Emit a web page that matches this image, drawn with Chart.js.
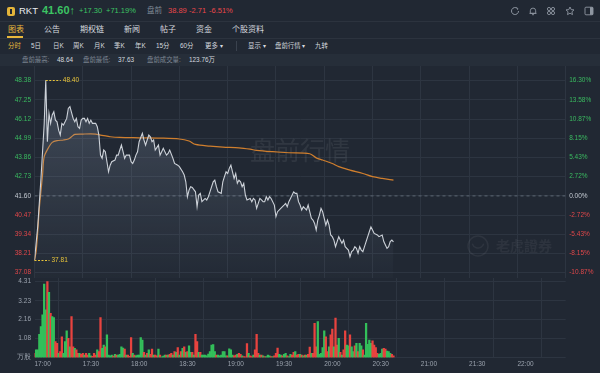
<!DOCTYPE html>
<html>
<head>
<meta charset="utf-8">
<script src="https://cdn.jsdelivr.net/npm/chart.js@4.4.1/dist/chart.umd.min.js"></script>
<style>
  html, body { margin: 0; padding: 0; }
  body { width: 600px; height: 373px; overflow: hidden; background: #212833; position: relative;
         font-family: "Liberation Sans", "Noto Sans CJK SC", sans-serif; }
  .t { position: absolute; white-space: nowrap; line-height: 1; }
  .g { color: #3cc463; } .r { color: #e8474a; } .y { color: #e9b83c; }
  .w { color: #d5d9df; } .m { color: #7f8895; }
  .hl { position: absolute; left: 0; width: 600px; height: 1px; background: #2c333e; }
  #band { position: absolute; left: 0; top: 54px; width: 600px; height: 12px; background: #262e39; }
  #pc { position: absolute; left: 0; top: 66px; }
  #vc { position: absolute; left: 0; top: 278px; }
  svg.ic { position: absolute; top: 6px; }
</style>
</head>
<body>
<!-- row 1: quote -->
<div style="position:absolute;left:7px;top:7px;width:8px;height:9px;background:#e3b43a;border-radius:2px"></div>
<div style="position:absolute;left:10px;top:9px;width:2px;height:5px;background:#212833"></div>
<span class="t w" style="left:19px;top:6px;font-size:9.5px;color:#e8ebef">RKT</span>
<span class="t g" style="left:42px;top:5px;font-size:11px;font-weight:bold">41.60↑</span>
<span class="t g" style="left:79px;top:7px;font-size:7.5px">+17.30</span>
<span class="t g" style="left:106px;top:7px;font-size:7.5px">+71.19%</span>
<span class="t m" style="left:147px;top:7px;font-size:7.5px">盘前</span>
<span class="t r" style="left:168px;top:7px;font-size:7.5px">38.89</span>
<span class="t r" style="left:189px;top:7px;font-size:7.5px">-2.71</span>
<span class="t r" style="left:209px;top:7px;font-size:7.5px">-6.51%</span>
<svg class="ic" style="left:510px" width="10" height="10" viewBox="0 0 10 10"><path d="M8.5 5a3.5 3.5 0 1 1-1.2-2.6" fill="none" stroke="#8e96a1" stroke-width="1"/><path d="M6.5 1.6l1.3 0.9-0.3 1.3" fill="none" stroke="#8e96a1" stroke-width="0.9"/></svg>
<svg class="ic" style="left:528px" width="10" height="10" viewBox="0 0 10 10"><path d="M2.3 7.3V4.8a2.7 2.7 0 0 1 5.4 0v2.5zM1.5 7.4h7M4 8.7h2" fill="none" stroke="#8e96a1" stroke-width="0.9"/></svg>
<svg class="ic" style="left:546px" width="10" height="10" viewBox="0 0 10 10"><g fill="none" stroke="#8e96a1" stroke-width="0.9"><circle cx="3" cy="3" r="1.6"/><circle cx="7" cy="3" r="1.6"/><circle cx="3" cy="7" r="1.6"/><circle cx="7" cy="7" r="1.6"/></g></svg>
<svg class="ic" style="left:565px" width="10" height="10" viewBox="0 0 10 10"><path d="M5 1l1.2 2.6 2.8.3-2.1 1.9.6 2.8L5 7.2 2.5 8.6l.6-2.8L1 3.9l2.8-.3z" fill="none" stroke="#8e96a1" stroke-width="0.9"/></svg>
<svg class="ic" style="left:584px" width="10" height="10" viewBox="0 0 10 10"><rect x="1" y="1.2" width="8" height="7.6" rx="1" fill="none" stroke="#8e96a1" stroke-width="0.9"/><rect x="6" y="1.2" width="3" height="7.6" fill="#8e96a1"/></svg>
<div class="hl" style="top:21px"></div>

<!-- row 2: tabs -->
<span class="t y" style="left:8px;top:26px;font-size:8px">图表</span>
<div style="position:absolute;left:7px;top:36px;width:16px;height:1.5px;background:#e9b83c"></div>
<span class="t w" style="left:44px;top:26px;font-size:8px">公告</span>
<span class="t w" style="left:80px;top:26px;font-size:8px">期权链</span>
<span class="t w" style="left:124px;top:26px;font-size:8px">新闻</span>
<span class="t w" style="left:160px;top:26px;font-size:8px">帖子</span>
<span class="t w" style="left:196px;top:26px;font-size:8px">资金</span>
<span class="t w" style="left:232px;top:26px;font-size:8px">个股资料</span>
<div class="hl" style="top:37.5px"></div>

<!-- row 3: periods -->
<span class="t y" style="left:8px;top:43px;font-size:6.4px">分时</span>
<span class="t w" style="left:31px;top:43px;font-size:6.4px">5日</span>
<span class="t w" style="left:53px;top:43px;font-size:6.4px">日K</span>
<span class="t w" style="left:73px;top:43px;font-size:6.4px">周K</span>
<span class="t w" style="left:94px;top:43px;font-size:6.4px">月K</span>
<span class="t w" style="left:114px;top:43px;font-size:6.4px">季K</span>
<span class="t w" style="left:135px;top:43px;font-size:6.4px">年K</span>
<span class="t w" style="left:156px;top:43px;font-size:6.4px">15分</span>
<span class="t w" style="left:180px;top:43px;font-size:6.4px">60分</span>
<span class="t w" style="left:205px;top:43px;font-size:6.4px">更多 ▾</span>
<div style="position:absolute;left:236px;top:41px;width:1px;height:10px;background:#3a424e"></div>
<span class="t w" style="left:248px;top:43px;font-size:6.4px">显示 ▾</span>
<span class="t w" style="left:275px;top:43px;font-size:6.4px">盘前行情 ▾</span>
<span class="t w" style="left:315px;top:43px;font-size:6.4px">九转</span>

<!-- row 4: pre-market stats -->
<div id="band"></div>
<span class="t m" style="left:22px;top:57px;font-size:6.4px">盘前最高:</span>
<span class="t w" style="left:57px;top:57px;font-size:6.4px">48.64</span>
<span class="t m" style="left:83px;top:57px;font-size:6.4px">盘前最低:</span>
<span class="t w" style="left:118px;top:57px;font-size:6.4px">37.63</span>
<span class="t m" style="left:147px;top:57px;font-size:6.4px">盘前成交量:</span>
<span class="t w" style="left:189px;top:57px;font-size:6.4px">123.76万</span>

<canvas id="pc" width="600" height="212"></canvas>
<canvas id="vc" width="600" height="95"></canvas>

<script>
// minutes after 17:00 and traded price
const priceMin = [0,2,4,6,7,8,9,10,11,12,13,14,15,16,17,18,20,21,22,24,25,26,27,28,29,30,31,32,33,34,35,36,38,39,40,41,42,43,44,46,47,48,50,51,52,53,54,55,56,57,59,60,61,62,63,64,65,67,68,69,70,71,72,73,74,75,77,78,79,80,82,83,84,86,87,89,90,92,93,94,95,96,97,98,100,101,102,103,104,106,107,108,109,111,112,113,114,116,117,118,119,120,121,122,123,124,125,126,127,128,129,130,131,132,134,135,136,137,138,140,141,142,143,144,145,146,147,149,150,151,153,155,156,157,158,159,161,162,163,164,165,166,167,168,169,170,172,173,174,175,176,177,178,179,180,181,182,183,184,185,186,187,188,189,190,191,192,193,195,196,197,198,199,200,201,202,203,204,205,206,207,208,209,210,211,213,214,216,217,218,219,220,221,222,223];
const price = [37.81,39.8,42.6,45.8,48.40,44.79,46.46,45.87,46.36,46.55,46.06,45.96,45.47,45.18,45.87,45.77,46.16,46.75,46.85,46.16,45.96,46.16,45.67,45.57,46.06,46.16,46.16,45.96,46.16,45.87,46.06,45.87,45.87,45.67,45.18,44.00,43.81,44.30,44.20,43.02,43.41,43.61,43.71,44.00,44.00,44.30,44.59,44.20,43.81,44.00,44.00,43.61,43.51,43.71,44.00,44.20,44.79,45.28,44.89,44.59,44.89,45.18,45.08,44.79,44.89,44.30,44.59,44.00,44.20,44.40,44.00,44.10,44.30,43.81,43.51,43.41,43.32,43.02,42.83,42.43,41.55,41.94,42.14,42.10,41.84,40.96,41.65,41.75,41.26,41.45,41.36,41.55,41.84,42.43,42.53,42.14,41.84,41.75,42.43,42.73,43.02,42.92,43.22,43.41,43.02,42.63,42.92,42.34,42.53,42.43,42.14,42.34,41.65,41.36,41.45,41.26,41.45,41.36,40.87,41.45,41.36,41.26,41.26,41.55,41.36,41.55,41.45,41.06,40.38,40.67,40.87,41.06,41.16,40.96,41.26,41.45,41.84,41.75,41.75,41.26,41.06,40.77,40.96,40.87,40.77,41.06,40.28,40.18,39.98,39.59,40.18,40.47,40.87,40.67,40.28,39.88,40.18,39.88,39.30,39.20,39.00,38.61,38.91,39.20,39.00,38.81,39.00,38.61,38.41,38.02,38.32,38.41,38.61,38.51,38.22,38.61,38.41,38.32,38.61,38.91,39.20,39.49,39.78,39.59,39.39,39.30,39.20,39.30,38.91,38.71,38.51,38.61,38.91,39.00,38.89];

// average price line
const avgMin = [0,1,2,3,5,6,9,11,14,18,21,23,25,30,38,41,45,47,53,65,78,90,96,100,109,117,127,134,138,148,158,171,175,179,185,189,196,204,210,216,223];
const avgPrice = [37.81,38.32,39.49,40.87,42.83,43.90,44.49,44.75,44.85,44.89,44.95,45.08,45.22,45.24,45.24,45.18,45.12,45.08,45.04,45.02,45.00,44.95,44.83,44.63,44.53,44.47,44.43,44.35,44.28,44.20,44.14,44.08,43.84,43.71,43.51,43.32,43.12,42.92,42.73,42.63,42.53];

const prevClose = 41.60;

// volume per minute (万股), 1 = up minute, 0 = down minute
const volume = [0.25,0.45,0.45,1.33,1.76,2.43,4.17,2.71,4.31,3.71,2.52,2.33,2.28,0.91,0.82,0.25,0.35,1.19,0.25,0.91,
  1.52,1.10,0.62,2.33,0.62,0.53,0.44,0.25,0.25,0.19,0.25,0.15,0.25,0.15,0.25,0.11,0.08,0.25,0.15,0.44,
  0.35,2.28,0.53,0.72,0.62,1.29,0.15,0.10,0.15,0.09,0.19,0.15,0.15,0.19,0.62,0.55,0.49,0.15,0.15,0.08,
  1.14,0.25,0.15,0.10,0.15,0.15,1.14,1.00,0.31,0.15,0.25,0.44,0.19,0.49,0.15,0.15,0.10,0.49,0.15,0.05,
  0.09,0.15,0.15,0.15,0.19,0.25,0.15,0.35,0.31,0.57,0.15,0.35,0.53,0.62,0.31,0.35,0.68,0.31,0.31,0.15,
  1.33,0.91,0.31,0.31,0.15,0.15,0.15,0.10,0.20,0.35,0.72,0.75,0.35,0.15,0.15,0.11,0.15,0.35,0.35,0.11,
  0.11,0.51,0.45,0.15,0.11,0.15,0.19,0.25,0.19,0.11,0.06,0.05,0.80,0.25,0.11,0.06,0.15,0.44,1.33,0.25,
  0.15,0.15,0.11,0.06,0.06,0.15,0.11,0.06,0.06,0.10,0.25,0.55,0.19,0.15,0.11,0.19,0.25,0.11,0.06,0.19,
  0.15,0.31,0.35,0.15,0.19,0.19,0.15,0.11,0.15,0.15,0.19,0.60,0.25,0.25,1.95,0.62,2.05,0.19,0.25,0.57,
  1.52,1.19,0.35,0.62,1.29,1.63,0.62,2.24,0.72,1.10,0.31,0.15,0.44,1.52,0.72,0.68,1.29,0.62,0.35,0.68,
  0.81,0.35,0.81,0.68,0.44,0.15,1.95,0.76,1.00,0.81,0.95,0.72,0.57,0.25,0.19,0.25,0.49,0.53,0.49,0.38,
  0.35,0.25,0.19,0.10];
const volUp = [0,1,1,1,1,1,1,1,0,1,0,1,1,0,0,1,0,0,1,1,
  1,0,1,0,0,1,0,0,1,0,0,1,0,0,1,1,0,0,0,1,
  0,0,1,1,0,1,1,1,1,0,1,0,1,1,1,1,0,1,0,0,
  0,1,0,1,1,1,1,1,0,1,0,1,0,0,1,0,0,1,0,1,
  1,1,0,1,0,0,1,0,1,0,1,0,1,0,1,0,1,1,0,1,
  0,0,1,0,1,1,1,1,1,1,1,1,1,0,1,1,1,1,1,1,
  0,1,1,1,0,0,1,0,0,1,0,0,0,1,0,0,1,0,0,0,
  1,0,1,0,1,1,1,0,1,0,0,0,1,1,0,1,1,0,1,1,
  0,0,1,0,0,1,0,1,0,1,0,0,1,0,0,0,1,1,1,1,
  1,0,0,1,0,0,1,0,0,1,0,1,0,0,1,1,0,1,1,0,
  1,0,1,1,0,1,1,1,1,1,0,0,0,0,1,1,1,0,0,1,
  1,1,0,0];

const priceTicks = [48.38,47.25,46.12,44.99,43.86,42.73,41.60,40.47,39.34,38.21,37.08];
const pctLabels = ['16.30%','13.58%','10.87%','8.15%','5.43%','2.72%','0.00%','-2.72%','-5.43%','-8.15%','-10.87%'];
const volTicks = [4.31,3.23,2.16,1.08,0];
const volLabels = ['4.31','3.23','2.16','1.08','万股'];
const timeTicks = [0,30,60,90,120,150,180,210,240,270,300,330];
const timeLabels = ['17:00','17:30','18:00','18:30','19:00','19:30','20:00','20:30','21:00','21:30','22:00',''];

const GREEN = '#3aba60', RED = '#e0474a', GRID = '#2d3541', AXISFONT = { family: 'Liberation Sans', size: 6.5 };
const tickColor = v => Math.abs(v - prevClose) < 0.001 ? '#c5cbd3' : (v > prevClose ? GREEN : RED);
const setTicks = vals => s => { s.ticks = vals.map(v => ({ value: v })); };

const decor = {
  id: 'decor',
  beforeDatasetsDraw(chart) {
    const c = chart.ctx;
    c.save();
    c.fillStyle = 'rgba(255,255,255,0.07)';
    c.font = '25px "Noto Sans CJK SC"';
    c.textAlign = 'center'; c.textBaseline = 'middle';
    c.fillText('盘前行情', 300, 84);
    c.fillStyle = 'rgba(255,255,255,0.055)';
    c.strokeStyle = 'rgba(255,255,255,0.06)';
    c.lineWidth = 1.5;
    c.beginPath(); c.arc(478, 180, 10, 0, Math.PI * 2); c.stroke();
    c.beginPath(); c.arc(478, 176, 6, 0.3, Math.PI - 0.3); c.stroke();
    c.font = 'bold 14px "Noto Sans CJK TC"';
    c.textAlign = 'left';
    c.fillText('老虎證券', 496, 180);
    c.restore();
  },
  afterDatasetsDraw(chart) {
    const c = chart.ctx, xs = chart.scales.x, ys = chart.scales.y;
    const hi = Math.max(...price), lo = Math.min(...price);
    [hi, lo].forEach(v => {
      const i = price.indexOf(v);
      const px = xs.getPixelForValue(priceMin[i]), py = Math.round(ys.getPixelForValue(v)) + 0.5;
      c.save();
      c.strokeStyle = '#e8c43a'; c.lineWidth = 1.2; c.setLineDash([2, 1.5]);
      c.beginPath(); c.moveTo(px, py); c.lineTo(px + 15, py); c.stroke();
      c.fillStyle = '#e8c43a'; c.font = '6.5px "Liberation Sans"';
      c.textBaseline = 'middle';
      c.fillText(v.toFixed(2), px + 17, py);
      c.restore();
    });
  }
};

new Chart(document.getElementById('pc'), {
  type: 'line',
  data: {
    datasets: [
      {
        data: priceMin.map((m, i) => ({ x: m, y: price[i] })),
        borderColor: '#cdd2d9', borderWidth: 1.1, pointRadius: 0, tension: 0,
        fill: 'start',
        backgroundColor: ctx => {
          const a = ctx.chart.chartArea;
          if (!a) return 'transparent';
          const g = ctx.chart.ctx.createLinearGradient(0, a.top, 0, a.bottom);
          g.addColorStop(0, 'rgba(150,165,188,0.30)');
          g.addColorStop(1, 'rgba(150,165,188,0.02)');
          return g;
        }
      },
      {
        data: avgMin.map((m, i) => ({ x: m, y: avgPrice[i] })),
        borderColor: '#d07f2e', borderWidth: 1.2, pointRadius: 0, tension: 0.3, fill: false
      },
      {
        data: [{ x: 0, y: prevClose }, { x: 330, y: prevClose }],
        borderColor: '#5d6673', borderWidth: 1, borderDash: [3, 3], pointRadius: 0, fill: false
      }
    ]
  },
  options: {
    responsive: false, animation: false, events: [],
    layout: { padding: 0 },
    plugins: { legend: { display: false }, tooltip: { enabled: false } },
    scales: {
      x: {
        type: 'linear', min: 0, max: 330,
        afterBuildTicks: setTicks(timeTicks),
        afterFit: s => { s.height = 0; s.paddingLeft = 0; s.paddingRight = 0; },
        ticks: { display: false },
        grid: { color: GRID, drawTicks: false },
        border: { display: false }
      },
      y: {
        position: 'left', min: 36.768, max: 49.245,
        afterBuildTicks: setTicks(priceTicks),
        afterFit: s => { s.width = 34.5; s.paddingTop = 0; s.paddingBottom = 0; },
        ticks: { font: AXISFONT, padding: 3.5, color: c => tickColor(c.tick.value), callback: v => v.toFixed(2) },
        grid: { color: GRID, drawTicks: false },
        border: { display: false }
      },
      yR: {
        position: 'right', min: 36.768, max: 49.245,
        afterBuildTicks: setTicks(priceTicks),
        afterFit: s => { s.width = 34.3; s.paddingTop = 0; s.paddingBottom = 0; },
        ticks: { font: AXISFONT, padding: 3.5, color: c => tickColor(c.tick.value),
                 callback: (v, i) => pctLabels[i] },
        grid: { display: false, drawTicks: false },
        border: { display: true, color: GRID }
      }
    }
  },
  plugins: [decor]
});

new Chart(document.getElementById('vc'), {
  type: 'bar',
  data: {
    datasets: [{
      data: volume.map((v, i) => ({ x: i, y: v })),
      backgroundColor: volUp.map(u => u ? '#33bf5a' : '#e8433f'),
      barPercentage: 1, categoryPercentage: 1
    }]
  },
  options: {
    responsive: false, animation: false, events: [],
    layout: { padding: { right: 34.3 } },
    plugins: { legend: { display: false }, tooltip: { enabled: false } },
    scales: {
      x: {
        type: 'linear', min: 0, max: 330, offset: false,
        afterBuildTicks: setTicks(timeTicks),
        afterFit: s => { s.height = 15.3; s.paddingLeft = 0; s.paddingRight = 0; },
        ticks: { font: AXISFONT, color: '#9aa2ad', padding: 3, align: 'start', maxRotation: 0,
                 callback: (v, i) => timeLabels[i] },
        grid: { color: GRID, drawTicks: false },
        border: { display: false }
      },
      y: {
        min: 0, max: 4.52,
        afterBuildTicks: setTicks(volTicks),
        afterFit: s => { s.width = 34.5; s.paddingTop = 0; s.paddingBottom = 0; },
        ticks: { font: AXISFONT, color: '#9aa2ad', padding: 3.5, callback: (v, i) => volLabels[i] },
        grid: { color: GRID, drawTicks: false },
        border: { display: false }
      }
    }
  }
});
</script>
</body>
</html>
